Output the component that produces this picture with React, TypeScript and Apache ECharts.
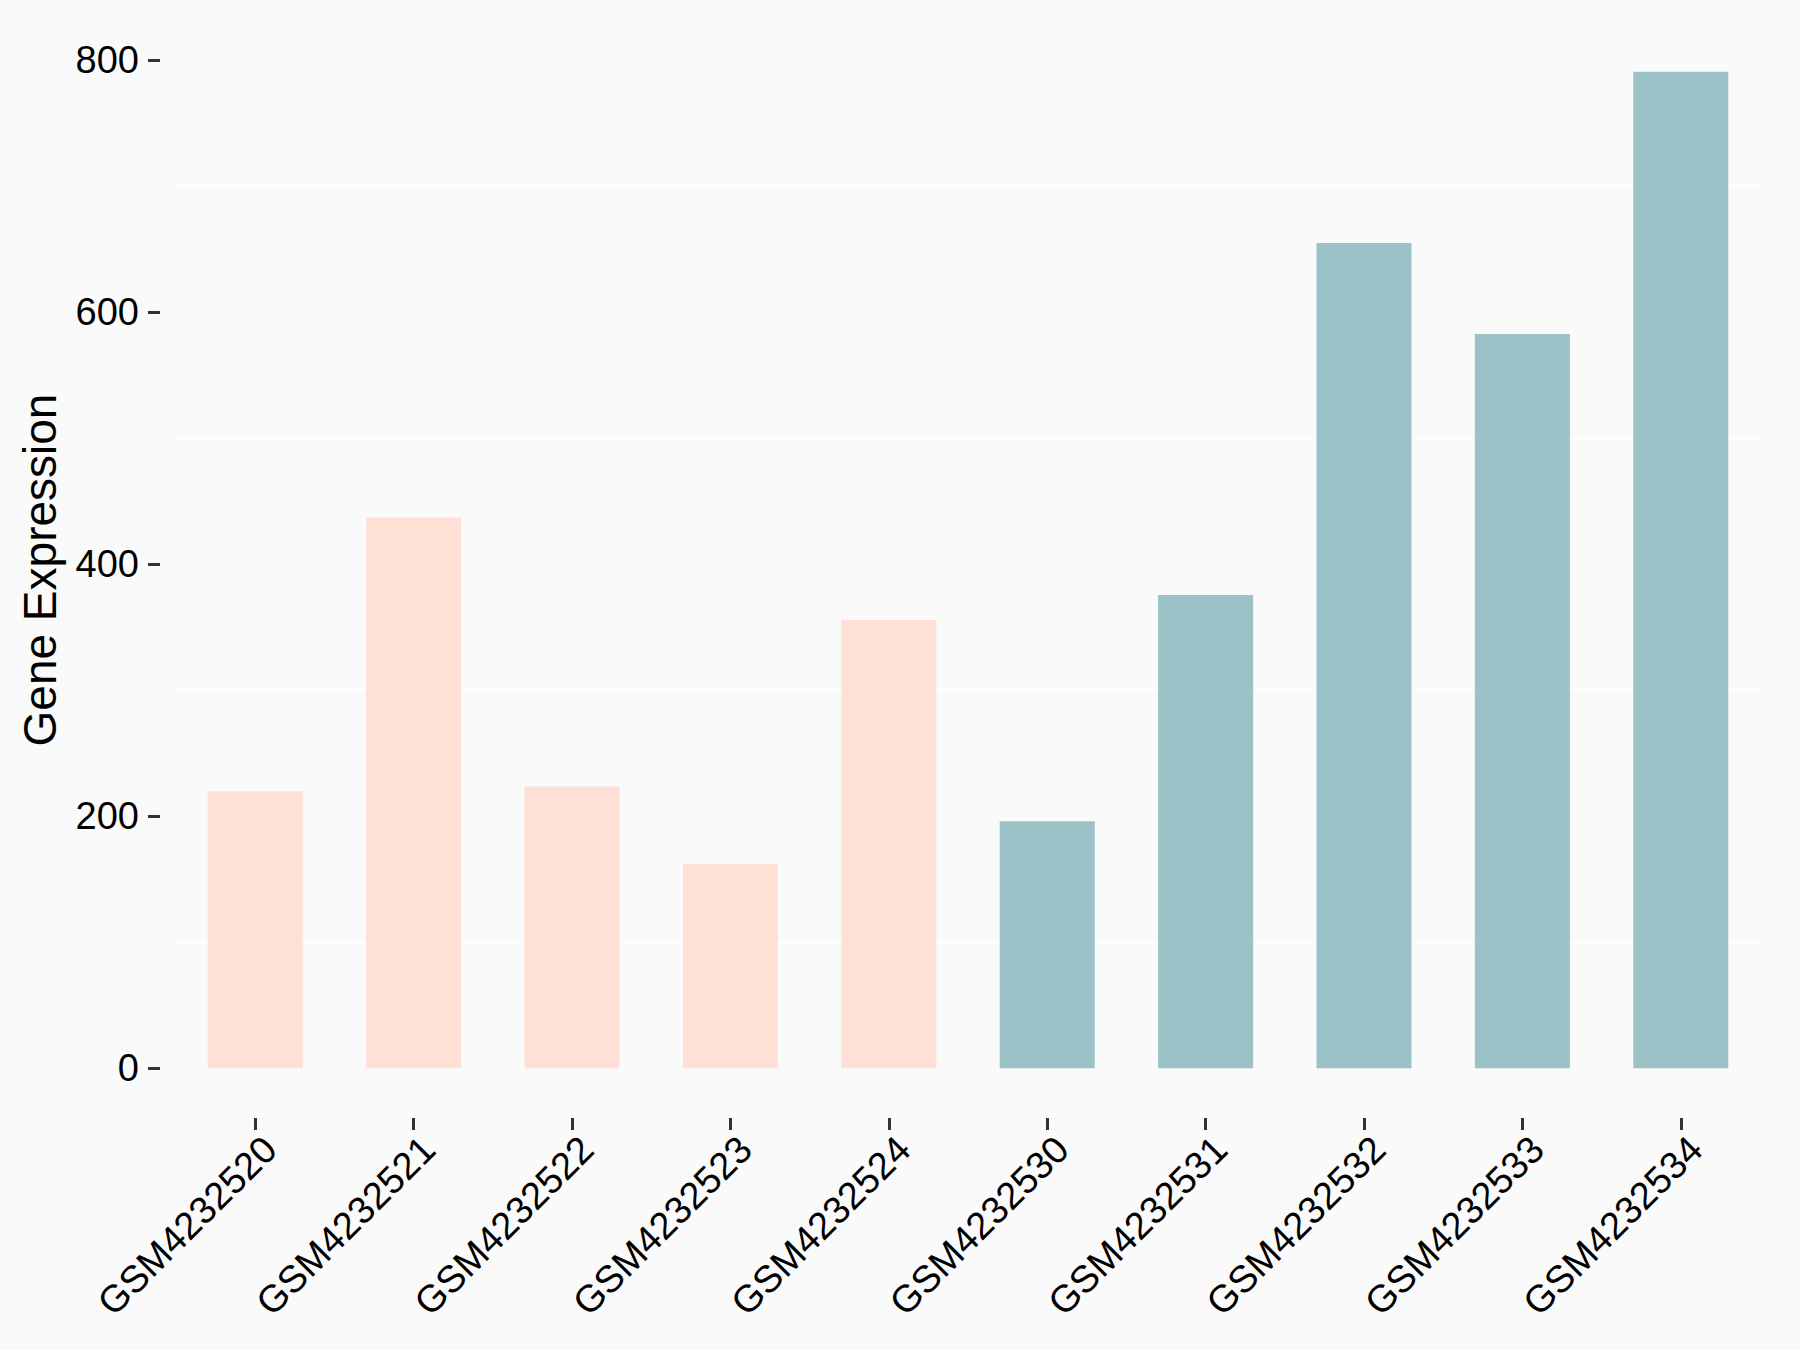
import React, { useEffect, useRef } from "react";
import * as echarts from "echarts";

const categories = [
  "GSM4232520",
  "GSM4232521",
  "GSM4232522",
  "GSM4232523",
  "GSM4232524",
  "GSM4232530",
  "GSM4232531",
  "GSM4232532",
  "GSM4232533",
  "GSM4232534",
];
const groups = ["A", "A", "A", "A", "A", "B", "B", "B", "B", "B"];
const expression = [219.8, 437, 223.5, 161.9, 355.6, 196, 375.4, 654.7, 582.5, 790.5];
const yTickValues = [0, 200, 400, 600, 800];
const yMinorGrid = [100, 300, 500, 700];
const groupColors: Record<string, string> = { A: "#FEE0D6", B: "#9BC3C7" };

const FONT = "'Liberation Sans', Arial, sans-serif";

export default function App() {
  const ref = useRef<HTMLDivElement>(null);
  useEffect(() => {
    if (!ref.current) return;
    const chart = echarts.init(ref.current, null, { renderer: "svg" });
    const maxV = Math.max(...expression);
    const pad = maxV * 0.05;
    chart.setOption({
      animation: false,
      backgroundColor: "#FAFAFA",
      grid: { left: 176, right: 40, top: 22, bottom: 232, containLabel: false },
      xAxis: {
        type: "category",
        data: categories,
        boundaryGap: true,
        axisLine: { show: false, onZero: false },
        axisTick: {
          show: true,
          alignWithLabel: true,
          length: 12,
          lineStyle: { color: "#333333", width: 3 },
        },
        axisLabel: {
          interval: 0,
          rotate: 45,
          fontSize: 38,
          color: "#000",
          fontFamily: FONT,
          margin: 10,
          align: "right",
          verticalAlign: "top",
          padding: [2, 0, 0, 0],
        },
        splitLine: { show: false },
      },
      yAxis: {
        type: "value",
        min: -pad,
        max: maxV + pad,
        offset: 16,
        name: "Gene Expression",
        nameLocation: "middle",
        nameGap: 97,
        nameTextStyle: { fontSize: 46, color: "#000", fontFamily: FONT },
        axisLine: { show: false },
        axisTick: {
          show: true,
          length: 12,
          customValues: yTickValues,
          lineStyle: { color: "#333333", width: 3 },
        },
        axisLabel: {
          customValues: yTickValues,
          fontSize: 38,
          color: "#000",
          fontFamily: FONT,
          margin: 21,
        },
        splitLine: { show: false },
      },
      series: [
        {
          type: "bar",
          z: 2,
          barWidth: "60%",
          data: expression.map((v, i) => ({
            value: v,
            itemStyle: { color: groupColors[groups[i]] },
          })),
          markLine: {
            z: 1,
            silent: true,
            symbol: ["none", "none"],
            label: { show: false },
            lineStyle: { color: "#FFFFFF", width: 2, type: "solid" },
            data: yMinorGrid.map((v) => ({ yAxis: v })),
          },
        },
      ],
    });
    return () => chart.dispose();
  }, []);
  return (
    <div
      ref={ref}
      style={{ position: "fixed", left: 0, top: 0, width: 1800, height: 1350 }}
    />
  );
}
